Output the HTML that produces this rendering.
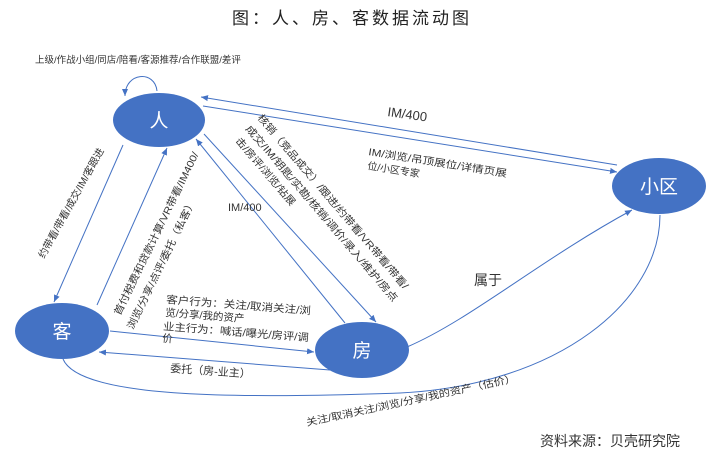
<!DOCTYPE html>
<html><head><meta charset="utf-8"><style>
html,body{margin:0;padding:0;background:#fff;}
svg{display:block;font-family:"Liberation Sans","Noto Sans CJK SC",sans-serif;}
</style></head><body>
<svg width="723" height="459" viewBox="0 0 723 459" xmlns="http://www.w3.org/2000/svg">
<defs>
<marker id="a" markerWidth="8" markerHeight="8" refX="7" refY="4" orient="auto" markerUnits="userSpaceOnUse">
<path d="M0,1 L7,4 L0,7 z" fill="#4472c4"/></marker>
</defs>
<text x="352" y="24" font-size="17" text-anchor="middle" fill="#222" letter-spacing="3">图：人、房、客数据流动图</text>
<text x="35" y="63" font-size="9.5" fill="#333">上级/作战小组/同店/陪看/客源推荐/合作联盟/差评</text>
<g stroke="#4472c4" stroke-width="1" fill="none">
<path d="M157,91 C155,70 125,72 125,96" marker-end="url(#a)"/>
<line x1="123" y1="145" x2="54" y2="302" marker-end="url(#a)"/>
<line x1="97" y1="305" x2="167" y2="148" marker-end="url(#a)"/>
<line x1="345" y1="323" x2="196" y2="139" marker-end="url(#a)"/>
<line x1="204" y1="134" x2="376" y2="322" marker-end="url(#a)"/>
<line x1="617" y1="165" x2="201" y2="97" marker-end="url(#a)"/>
<line x1="203" y1="106" x2="617" y2="172" marker-end="url(#a)"/>
<path d="M407,347 C470,320 540,260 632,210" marker-end="url(#a)"/>
<line x1="110" y1="331" x2="314" y2="352" marker-end="url(#a)"/>
<line x1="330" y1="370" x2="99" y2="352" marker-end="url(#a)"/>
<path d="M63,359 C80,400 250,398 400,393 C560,385 660,300 660,215"/>
</g>
<ellipse cx="159" cy="120" rx="46" ry="27" fill="#4472c4"/>
<ellipse cx="62" cy="331" rx="47" ry="28" fill="#4472c4"/>
<ellipse cx="362" cy="350" rx="47" ry="28" fill="#4472c4"/>
<ellipse cx="659" cy="186" rx="47" ry="28" fill="#4472c4"/>
<g fill="#fff" font-size="19" text-anchor="middle">
<text x="159" y="127">人</text><text x="62" y="338">客</text>
<text x="362" y="357">房</text><text x="659" y="193">小区</text>
</g>
<g fill="#333" font-size="10">
<text transform="translate(44,259) rotate(-61)" textLength="124" lengthAdjust="spacingAndGlyphs">约带看/带看/成交/IM/客跟进</text>
<text transform="translate(120,316) rotate(-64)" textLength="180" lengthAdjust="spacingAndGlyphs">首付税费和贷款计算/VR带看/IM400/</text>
<text transform="translate(133,330) rotate(-64)" textLength="143" lengthAdjust="spacingAndGlyphs">浏览/分享/点评/委托（私客）</text>
<text x="228" y="211" font-size="11">IM/400</text>
<text transform="translate(257,118) rotate(49.5)" textLength="226" lengthAdjust="spacingAndGlyphs">核销（竞品成交）/跟进/约带看/VR带看/带看/</text>
<text transform="translate(245,129) rotate(49.5)" textLength="228" lengthAdjust="spacingAndGlyphs">成交/IM/钥匙/实勘/核销/调价/录入/维护/房点</text>
<text transform="translate(235,141) rotate(49.5)" textLength="86" lengthAdjust="spacingAndGlyphs">击/房评/浏览/钻展</text>
<text transform="translate(387,116) rotate(8)" font-size="13">IM/400</text>
<text transform="translate(368,155) rotate(9)" textLength="140" lengthAdjust="spacingAndGlyphs">IM/浏览/吊顶展位/详情页展</text>
<text transform="translate(367,169) rotate(9)">位/小区专家</text>
<text x="474" y="285" font-size="14">属于</text>
<text transform="translate(170,372) rotate(4)" font-size="11">委托（房-业主）</text>
<text transform="translate(307,426) rotate(-12)" textLength="214" lengthAdjust="spacingAndGlyphs">关注/取消关注/浏览/分享/我的资产（估价）</text>
<g transform="translate(166,303) rotate(4.5)" font-size="10.5">
<text x="0" y="0" textLength="145" lengthAdjust="spacingAndGlyphs">客户行为：关注/取消关注/浏</text>
<text x="0" y="13">览/分享/我的资产</text>
<text x="-1" y="27" textLength="146" lengthAdjust="spacingAndGlyphs">业主行为：喊话/曝光/房评/调</text>
<text x="-1" y="39">价</text>
</g>
</g>
<text x="540" y="446" font-size="14" fill="#333">资料来源：贝壳研究院</text>
</svg>
</body></html>
